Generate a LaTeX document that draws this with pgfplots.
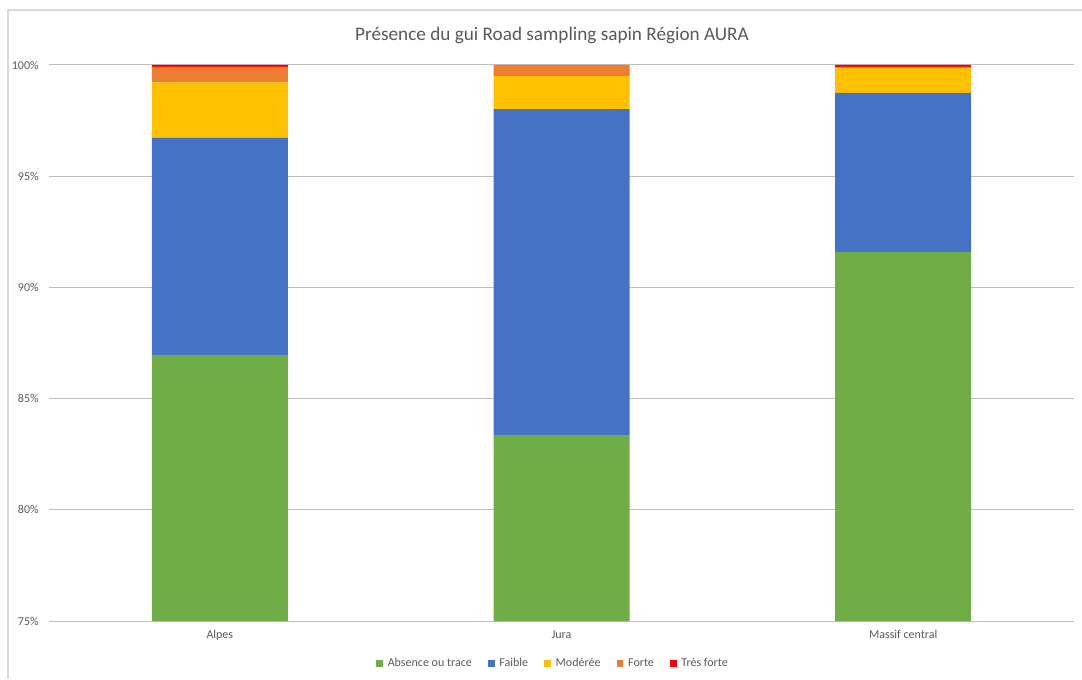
\documentclass[border=0pt]{standalone}
\usepackage{pgfplots}
\pgfplotsset{compat=1.18}
\usepackage{fontspec}
\setmainfont{Carlito}
\definecolor{cGreen}{HTML}{70AD47}
\definecolor{cBlue}{HTML}{4472C4}
\definecolor{cYellow}{HTML}{FFC000}
\definecolor{cOrange}{HTML}{ED7D31}
\definecolor{cRed}{HTML}{FF0000}
\definecolor{txt}{HTML}{595959}
\definecolor{grid}{HTML}{D9D9D9}
\begin{document}
\begin{tikzpicture}
\path[use as bounding box] (0pt,0pt) rectangle (811.5pt,509.25pt);
% chart frame
\draw[grid,line width=0.9pt] (6pt,0pt) -- (6pt,501.75pt) -- (811.5pt,501.75pt);
\node[font=\fontsize{14.4}{16}\selectfont,text=txt] at (414pt,483pt) {Présence du gui Road sampling sapin Région AURA};
\begin{axis}[
  at={(36.75pt,43.5pt)}, anchor=south west,
  scale only axis, width=768.75pt, height=417pt,
  ybar stacked, bar width=102pt,
  xmin=-0.5, xmax=2.5, ymin=75, ymax=100,
  xtick=data, xticklabels={Alpes,Jura,Massif central},
  ytick={75,80,85,90,95,100},
  yticklabel={\pgfmathprintnumber{\tick}\%},
  /pgf/number format/assume math mode=true,
  ymajorgrids, grid style={grid,line width=0.75pt},
  axis line style={draw=none},
  tick style={draw=none},
  tick label style={font=\fontsize{9}{10}\selectfont,text=txt},
  yticklabel style={inner sep=0pt,xshift=-7.5pt},
  xticklabel style={inner sep=0pt,yshift=-7pt},
  legend style={at={(0.492,-0.077)},anchor=center,draw=none,fill=none,
    font=\fontsize{9}{10}\selectfont,text=txt,
    legend columns=5,
    /tikz/every even column/.append style={column sep=10pt},
    /tikz/every odd column/.append style={column sep=1.5pt}},
  legend image code/.code={\fill[#1] (0pt,-2.6pt) rectangle (5.2pt,2.6pt);},
  legend cell align=left,
]
\addplot[fill=cGreen,draw=none] coordinates {(0,86.96) (1,83.36) (2,91.59)};
\addplot[fill=cBlue,draw=none] coordinates {(0,9.76) (1,14.66) (2,7.16)};
\addplot[fill=cYellow,draw=none] coordinates {(0,2.50) (1,1.48) (2,1.12)};
\addplot[fill=cOrange,draw=none] coordinates {(0,0.70) (1,0.50) (2,0.05)};
\addplot[fill=cRed,draw=none] coordinates {(0,0.08) (1,0) (2,0.08)};
\legend{Absence ou trace,Faible,Modérée,Forte,Très forte}
\end{axis}
\end{tikzpicture}
\end{document}
